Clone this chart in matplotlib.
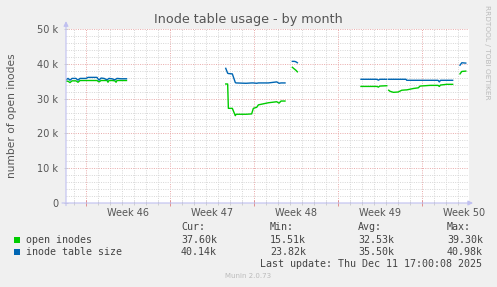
import numpy as np
import matplotlib
matplotlib.use("Agg")
import matplotlib.pyplot as plt
from matplotlib.patches import Rectangle

W, H = 497, 287

# days from the left edge of the graph (NaN = no data)
days = [0.00, 0.17, 0.33, 0.50, 0.83, 1.00, 1.17, 1.67, 1.83, 2.58, 2.75, 2.92,
        3.17, 3.42, 3.50, 3.58, 3.83, 4.08, 4.17, 4.25, 4.58, 5.04, 5.10,
        13.31, 13.47, 13.53, 13.86, 13.94, 14.11, 14.17, 15.00, 15.47, 15.61,
        15.89, 16.03, 16.86, 17.56, 17.75, 17.92, 18.25, 18.30,
        18.86, 19.03, 19.14, 19.28, 19.35,
        24.58, 25.90, 26.03, 26.15, 26.73, 26.81, 26.89, 27.00, 27.28, 27.69,
        27.97, 28.33, 28.39, 28.94, 29.36, 29.50, 30.33, 31.00, 31.11, 31.20,
        31.72, 32.22, 32.30,
        32.83, 32.98, 33.31]

# thousands
open_inodes = [35.0, 35.0, 34.6, 35.1, 35.1, 34.7, 35.2, 35.2, 35.2, 35.2, 34.8, 35.2,
               35.2, 35.2, 34.7, 35.2, 35.2, 35.1, 34.7, 35.2, 35.2, 35.2, None,
               34.2, 34.2, 27.2, 27.2, 26.5, 25.1, 25.5, 25.5, 25.6, 27.2,
               27.5, 28.2, 28.8, 29.1, 28.7, 29.3, 29.3, None,
               39.0, 38.5, 38.2, 37.7, None,
               33.5, 33.5, 33.3, 33.6, 33.7, None, 32.4, 32.1, 31.8, 31.9,
               32.4, 32.5, 32.5, 32.9, 33.1, 33.6, 33.8, 33.8, 33.5, 33.9,
               34.1, 34.1, None,
               37.1, 37.8, 37.9]

table_size = [35.4, 35.8, 35.3, 35.8, 35.8, 35.3, 35.8, 35.8, 36.1, 36.1, 35.3, 35.9,
              35.8, 35.4, 35.6, 35.8, 35.7, 35.4, 35.6, 35.8, 35.7, 35.7, None,
              38.7, 37.3, 37.2, 37.1, 36.3, 34.6, 34.5, 34.4, 34.5, 34.5,
              34.4, 34.5, 34.5, 34.8, 34.4, 34.5, 34.5, None,
              40.7, 40.7, 40.6, 40.3, None,
              35.55, 35.55, 35.3, 35.55, 35.55, None, 35.55, 35.55, 35.55, 35.55,
              35.55, 35.55, 35.26, 35.26, 35.26, 35.26, 35.26, 35.26, 34.8, 35.26,
              35.26, 35.26, None,
              39.6, 40.3, 40.2]

week_starts = [1.67, 8.67, 15.67, 22.67, 29.67]
week_labels = ["Week 46", "Week 47", "Week 48", "Week 49", "Week 50"]
yticks = [0, 10, 20, 30, 40, 50]
ytick_labels = ["0", "10 k", "20 k", "30 k", "40 k", "50 k"]

names = ["open inodes", "inode table size"]
cur = ["37.60k", "40.14k"]
mins = ["15.51k", "23.82k"]
avgs = ["32.53k", "35.50k"]
maxs = ["39.30k", "40.98k"]
colors = ["#00CC00", "#0066B3"]


def fx(px):
    return px / W


def fy(py):
    return 1 - py / H


fig = plt.figure(figsize=(W / 100, H / 100), dpi=100, facecolor="#F0F0F0")
ax = fig.add_axes([fx(66), fy(203), (469 - 66) / W, (203 - 29) / H])
ax.set_facecolor("white")

x = np.array(days, dtype=float)
for vals, c in zip([open_inodes, table_size], colors):
    ax.plot(x, np.array(vals, dtype=float), color=c, lw=1.0, zorder=3)

ax.set_xlim(0, 33.58)
ax.set_ylim(0, 50)

ax.set_xticks(week_starts)
ax.set_xticks(np.arange(0.67, 33.58, 1.0), minor=True)
ax.set_yticks(yticks)
ax.set_yticklabels(ytick_labels)
ax.set_yticks(np.arange(0, 50, 2), minor=True)

ax.set_axisbelow(True)
ax.grid(which="minor", color="#D8D8D8", ls=(0, (1, 1.3)), lw=0.72)
ax.grid(which="major", color="#EAAEAE", ls=(0, (1, 1.3)), lw=0.72)

ax.tick_params(axis="x", which="both", labelbottom=False, direction="inout")
ax.tick_params(axis="x", which="major", length=4, width=0.7, color="#E09090")
ax.tick_params(axis="x", which="minor", length=3, width=0.6, color="#C8C8C8")
ax.tick_params(axis="y", which="major", length=3, width=0.6, color="#C8C8C8",
               labelsize=7, labelcolor="#555555", pad=4, direction="inout")
ax.tick_params(axis="y", which="minor", length=0)

for s in ax.spines.values():
    s.set_visible(False)

arrow = dict(arrowstyle="-|>", color="#C0C0F0", lw=0.8, mutation_scale=7, shrinkA=0, shrinkB=0)
ax.annotate("", xy=(0, 1.045), xytext=(0, -0.015), xycoords="axes fraction", arrowprops=arrow)
ax.annotate("", xy=(1.01, 0), xytext=(-0.01, 0), xycoords="axes fraction", arrowprops=arrow)

for ws, lab in zip(week_starts, week_labels):
    ax.text(ws + 3.5, -10 / 174, lab, transform=ax.get_xaxis_transform(),
            ha="center", va="center", fontsize=7, color="#555555", clip_on=False)

fig.text(fx(248), fy(19.5), "Inode table usage - by month", ha="center", va="center",
         fontsize=9.2, color="#555555")
fig.text(fx(12), fy(116), "number of open inodes", rotation=90, ha="center", va="center",
         fontsize=7.7, color="#555555")
fig.text(fx(486.5), fy(5), "RRDTOOL / TOBI OETIKER", rotation=270, ha="center", va="top",
         fontsize=5.3, color="#BBBBBB")

mono = dict(family="DejaVu Sans Mono", fontsize=7.2, color="#444444", va="center")
col_x = [181, 270, 358, 447]
for cx, head in zip(col_x, ["Cur:", "Min:", "Avg:", "Max:"]):
    fig.text(fx(cx), fy(227.5), head, **mono)

for i, name in enumerate(names):
    yy = 240 + i * 12
    fig.add_artist(Rectangle((fx(14), fy(yy + 3)), 6 / W, 6 / H, transform=fig.transFigure,
                             facecolor=colors[i], edgecolor="none"))
    fig.text(fx(26), fy(yy), name, **mono)
    for cx, v in zip(col_x, [cur[i], mins[i], avgs[i], maxs[i]]):
        fig.text(fx(cx), fy(yy), v, **mono)

fig.text(fx(482.5), fy(264), "Last update: Thu Dec 11 17:00:08 2025", ha="right", **mono)
fig.text(fx(248), fy(276), "Munin 2.0.73", ha="center", va="center", fontsize=5, color="#BBBBBB")

fig.savefig("out.png", dpi=100, facecolor=fig.get_facecolor())
